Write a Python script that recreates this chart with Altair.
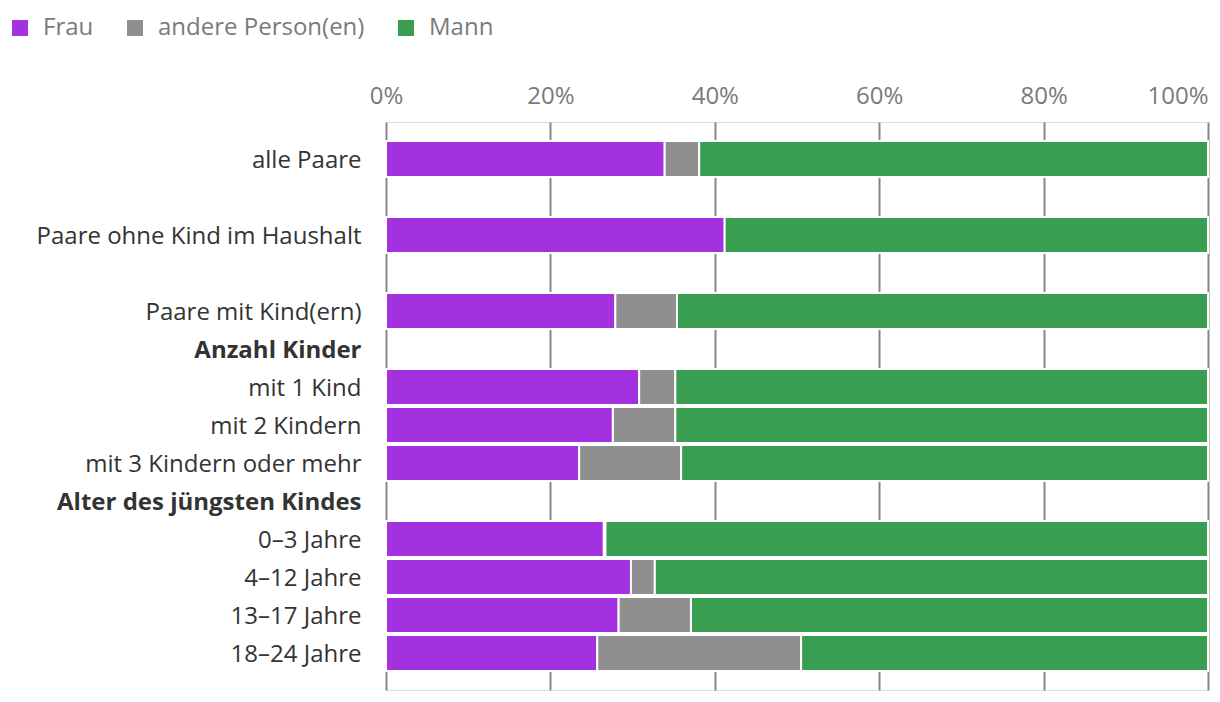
import altair as alt
import pandas as pd

rows = ["alle Paare", " ", "Paare ohne Kind im Haushalt", "  ", "Paare mit Kind(ern)",
        "Anzahl Kinder", "mit 1 Kind", "mit 2 Kindern", "mit 3 Kindern oder mehr",
        "Alter des jüngsten Kindes", "0–3 Jahre", "4–12 Jahre", "13–17 Jahre", "18–24 Jahre"]

data_rows = ["alle Paare", "Paare ohne Kind im Haushalt", "Paare mit Kind(ern)",
             "mit 1 Kind", "mit 2 Kindern", "mit 3 Kindern oder mehr",
             "0–3 Jahre", "4–12 Jahre", "13–17 Jahre", "18–24 Jahre"]
frau = [33.9, 41.2, 27.9, 30.8, 27.6, 23.5, 26.5, 29.8, 28.3, 25.7]
andere = [4.2, 0.0, 7.5, 4.4, 7.6, 12.4, 0.2, 2.9, 8.8, 24.8]
mann = [61.9, 58.8, 64.6, 64.8, 64.8, 64.1, 73.3, 67.3, 62.9, 49.5]

series = ["Frau", "andere Person(en)", "Mann"]
colors = ["#A331DF", "#8F8F8F", "#399E4F"]

recs = []
for i, r in enumerate(data_rows):
    for k, (s, vals) in enumerate(zip(series, [frau, andere, mann])):
        if vals[i] > 0:
            recs.append({"Gruppe": r, "Person": s, "Anteil": vals[i] / 100.0, "ord": k})
df = pd.DataFrame(recs)

headers_test = "datum.value == 'Anzahl Kinder' || datum.value == 'Alter des jüngsten Kindes'"

chart = alt.Chart(df).mark_bar(stroke="white", strokeWidth=2).encode(
    y=alt.Y("Gruppe:N", sort=rows,
            scale=alt.Scale(domain=rows, paddingInner=0.0526, paddingOuter=0.5),
            axis=alt.Axis(title=None, domain=False, ticks=False, grid=False, labelPadding=25,
                          labelFontSize=24, labelColor="#333333", labelLimit=600,
                          labelFont="Open Sans", labelOffset=2,
                          labelFontWeight={"condition": {"test": headers_test, "value": "bold"},
                                           "value": "normal"})),
    x=alt.X("Anteil:Q", stack="zero",
            scale=alt.Scale(domain=[0, 1], nice=False),
            axis=alt.Axis(title=None, orient="top", format="%", values=[0, 0.2, 0.4, 0.6, 0.8, 1.0],
                          domain=False, ticks=False, grid=True, gridColor="#888888", gridWidth=2,
                          labelFontSize=24, labelColor="#7a7a7a", labelFont="Open Sans",
                          labelPadding=14,
                          labelAlign={"condition": {"test": "datum.value == 1", "value": "right"},
                                      "value": "center"})),
    color=alt.Color("Person:N", scale=alt.Scale(domain=series, range=colors),
                    legend=alt.Legend(title=None, orient="none", direction="horizontal",
                                      legendX=-378, legendY=-106,
                                      symbolType="square", symbolSize=256, symbolStrokeWidth=0,
                                      labelFontSize=24, labelColor="#7a7a7a", labelFont="Open Sans",
                                      labelLimit=600, columnPadding=29, labelOffset=11)),
    order=alt.Order("ord:Q"),
).properties(
    width=822, height=568,
    autosize=alt.AutoSizeParams(type="none"),
    padding={"left": 378, "top": 114, "right": 2, "bottom": 4},
).configure_view(strokeWidth=0, strokeOpacity=0).configure(font="Open Sans")

chart.save("out.html", embed_options={"renderer": "svg", "actions": False})
